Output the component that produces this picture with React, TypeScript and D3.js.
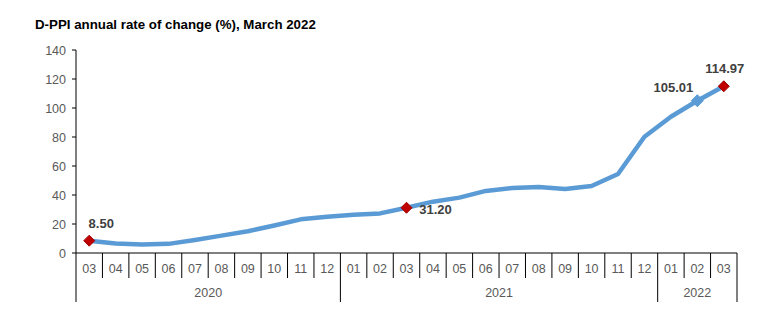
import React from "react";
import * as d3 from "d3";

const months = ["03","04","05","06","07","08","09","10","11","12","01","02","03","04","05","06","07","08","09","10","11","12","01","02","03"];
const years = [
  { label: "2020", start: 0, end: 10 },
  { label: "2021", start: 10, end: 22 },
  { label: "2022", start: 22, end: 25 },
];
const values = [8.5, 6.6, 5.8, 6.3, 9.0, 12.0, 15.0, 19.0, 23.2, 25.0, 26.3, 27.3, 31.2, 35.4, 38.2, 42.8, 44.8, 45.5, 44.2, 46.2, 54.5, 80.2, 94.0, 105.01, 114.97];
const yTicks = [0, 20, 40, 60, 80, 100, 120, 140];
const labels = [
  { i: 0, text: "8.50", dx: 12, dy: -13, marker: "red" },
  { i: 12, text: "31.20", dx: 29, dy: 6, marker: "red" },
  { i: 23, text: "105.01", dx: -24, dy: -9, marker: "blue" },
  { i: 24, text: "114.97", dx: 1, dy: -13, marker: "red" },
];
const title = "D-PPI annual rate of change (%), March 2022";

export default function App() {
  const left = 76, right = 737, top = 50, bottom = 253;
  const x = d3.scaleBand<number>().domain(d3.range(months.length)).range([left, right]);
  const y = d3.scaleLinear().domain([0, 140]).range([bottom, top]);
  const cx = (i: number) => (x(i) as number) + x.bandwidth() / 2;
  const line = d3.line<number>().x((_, i) => cx(i)).y((d) => y(d)).curve(d3.curveLinear);
  const font = "Arial, 'Liberation Sans', sans-serif";
  const edge = (i: number) => (i < months.length ? (x(i) as number) : right);
  const diamond = (px: number, py: number, r: number) =>
    `M${px},${py - r}L${px + r},${py}L${px},${py + r}L${px - r},${py}Z`;
  return (
    <svg width={769} height={329} style={{ position: "absolute", left: 0, top: 0 }} fontFamily={font}>
      <rect width={769} height={329} fill="#fff" />
      <text x={35} y={29} fontSize={13.3} fontWeight="bold" fill="#000">{title}</text>
      {yTicks.map((t) => (
        <g key={t}>
          <line x1={72} x2={left} y1={y(t)} y2={y(t)} stroke="#000" />
          <text x={66} y={y(t) + 4.5} fontSize={12.5} fill="#595959" textAnchor="end">{t}</text>
        </g>
      ))}
      <line x1={left} x2={left} y1={top} y2={302} stroke="#000" />
      <line x1={left} x2={right} y1={bottom} y2={bottom} stroke="#000" />
      {months.map((m, i) => (
        <g key={i}>
          {i > 0 && !years.some((yy) => yy.start === i) && (
            <line x1={edge(i)} x2={edge(i)} y1={bottom} y2={278} stroke="#000" />
          )}
          <text x={cx(i)} y={273} fontSize={12.5} fill="#595959" textAnchor="middle">{m}</text>
        </g>
      ))}
      {years.map((yy) => (
        <g key={yy.label}>
          <line x1={edge(yy.end)} x2={edge(yy.end)} y1={bottom} y2={302} stroke="#000" />
          <text x={(edge(yy.start) + edge(yy.end)) / 2} y={297} fontSize={12.5} fill="#595959" textAnchor="middle">{yy.label}</text>
        </g>
      ))}
      <path d={line(values) || ""} fill="none" stroke="#5B9BD5" strokeWidth={4.5} strokeLinejoin="round" />
      {labels.map((l) => (
        <g key={l.i}>
          <path d={diamond(cx(l.i), y(values[l.i]), l.marker === "red" ? 5.5 : 6)} fill={l.marker === "red" ? "#C00000" : "#5B9BD5"} stroke={l.marker === "red" ? "#A00000" : "#5B9BD5"} />
          <text x={cx(l.i) + l.dx} y={y(values[l.i]) + l.dy} fontSize={13} fontWeight="bold" fill="#404040" textAnchor="middle">{l.text}</text>
        </g>
      ))}
    </svg>
  );
}
